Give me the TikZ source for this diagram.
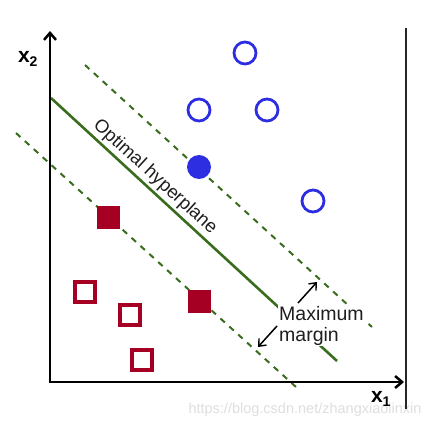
\documentclass[tikz,border=0pt]{standalone}
\usepackage{fontspec}
\setmainfont{Liberation Sans}
\usetikzlibrary{arrows.meta,calc}
\definecolor{svmgreen}{RGB}{58,108,30}
\definecolor{svmblue}{RGB}{45,45,225}
\definecolor{svmred}{RGB}{165,0,35}
\definecolor{wmgray}{RGB}{222,222,222}
\definecolor{txt}{RGB}{30,30,30}
\tikzset{
  axisline/.style={line width=2.7pt, -{Straight Barb[length=7pt,width=12pt,line width=2.5pt]}},
  hyper/.style={svmgreen, line width=2.6pt},
  marginline/.style={svmgreen, line width=2pt, dash pattern=on 6pt off 6pt},
  opencirc/.style={circle, draw=svmblue, line width=2.8pt, minimum size=22pt, inner sep=0pt},
  fullcirc/.style={circle, fill=svmblue, minimum size=24pt, inner sep=0pt},
  opensq/.style={rectangle, draw=svmred, line width=3.2pt, minimum size=20pt, inner sep=0pt},
  fullsq/.style={rectangle, fill=svmred, minimum size=23pt, inner sep=0pt},
  lbl/.style={font=\fontsize{18.5}{21}\selectfont, text=txt, inner sep=0pt},
  axlbl/.style={font=\fontsize{21}{24}\selectfont\bfseries, inner sep=0pt},
  marrow/.style={line width=1.5pt, -{Straight Barb[length=6pt,width=10pt,line width=1.4pt]}},
}
\begin{document}
\begin{tikzpicture}[x=1pt,y=-1pt]
\useasboundingbox (0,0) rectangle (442,428);
% watermark
\node[font=\fontsize{14.5}{16}\selectfont, text=wmgray, inner sep=0pt] (wm) at (305,410) {https://blog.csdn.net/zhangxiaolinxin};
% right frame line
\coordinate (r1) at (406,28);
\coordinate (r2) at (406,409);
\draw[line width=1.4pt, black!85] (r1) -- (r2);
% margin lines
\coordinate (u1) at (85,65);
\coordinate (u2) at (372,327);
\coordinate (l1) at (16,133);
\coordinate (l2) at (296,387);
\draw[marginline] (u1) -- (u2);
\draw[marginline] (l1) -- (l2);
% hyperplane
\coordinate (h1) at (51,98);
\coordinate (h2) at (337,361);
\draw[hyper] (h1) -- (h2);
% axes
\coordinate (o) at (50,382);
\coordinate (ytop) at (50,31);
\coordinate (xend) at (404,382);
\draw[axisline] ($(o)+(0,1.35)$) -- (ytop);
\draw[axisline] ($(o)+(-1.35,0)$) -- (xend);
\node[axlbl] (x2) at (28,59) {x\textsubscript{\fontsize{14}{16}\selectfont 2}};
\node[axlbl] (x1) at (381,399) {x\textsubscript{\fontsize{14}{16}\selectfont 1}};
% blue points
\node[opencirc] (c1) at (245,53) {};
\node[opencirc] (c2) at (199,110) {};
\node[opencirc] (c3) at (267,110) {};
\node[opencirc] (c4) at (313,201) {};
\node[fullcirc] (c5) at (199,167) {};
% red points
\node[opensq] (s1) at (85,292) {};
\node[opensq] (s2) at (130,315) {};
\node[opensq] (s3) at (142,360) {};
\node[fullsq] (s4) at (199,301) {};
\node[fullsq] (s5) at (108,217) {};
% labels
\node[lbl, rotate=-42.5] (opt) at (155,177) {Optimal hyperplane};
\node[lbl, fill=white, align=left, anchor=north west, inner sep=1pt, font=\fontsize{19.5}{21}\selectfont] (mm) at (278,305) {Maximum\\margin};
\coordinate (a1) at (317,282);
\coordinate (a2) at (258,347);
\draw[marrow] (298,303) -- (a1);
\draw[marrow] (277,326) -- (a2);
\end{tikzpicture}
\end{document}
